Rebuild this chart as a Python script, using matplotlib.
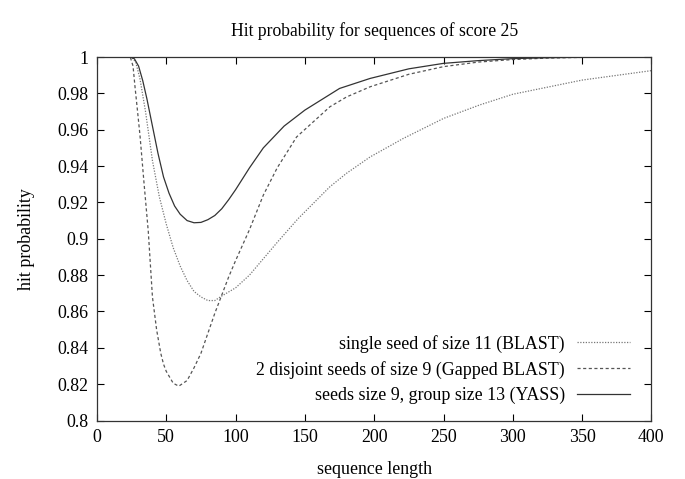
import matplotlib
matplotlib.use("Agg")
import matplotlib.pyplot as plt

# values
blast_x = [0, 20, 25, 28, 31, 35, 40, 45, 50, 55, 60, 65, 70, 75, 80, 85, 90, 100,
           110, 120, 130, 145, 168, 180, 197, 221, 250, 276, 300, 350, 400]
blast_y = [1.0, 1.0, 1.0, 0.997, 0.988, 0.970, 0.943, 0.923, 0.908, 0.895, 0.885,
           0.877, 0.871, 0.868, 0.866, 0.866, 0.8685, 0.873, 0.880, 0.889, 0.898,
           0.911, 0.9286, 0.936, 0.945, 0.9552, 0.9662, 0.9736, 0.9795, 0.9873, 0.9925]

gapped_x = [0, 20, 24, 26, 27.5, 29, 31, 34, 37, 40, 43, 46, 48, 50, 55, 59, 65, 70,
            75, 80, 85, 90, 95, 100, 110, 120, 130, 144, 168, 180, 197, 225, 250,
            275, 300, 325, 350, 400]
gapped_y = [1.0, 1.0, 1.0, 0.995, 0.983, 0.972, 0.957, 0.930, 0.904, 0.868, 0.850,
            0.837, 0.831, 0.827, 0.8205, 0.8189, 0.822, 0.829, 0.837, 0.848, 0.859,
            0.869, 0.879, 0.888, 0.905, 0.924, 0.939, 0.956, 0.9726, 0.978, 0.9836,
            0.9905, 0.9947, 0.9972, 0.9986, 0.9994, 0.9998, 1.0]

yass_x = [0, 24, 27, 30, 33, 36, 40, 44, 48, 52, 56, 60, 65, 70, 75, 80, 85, 90, 95,
          100, 110, 120, 135, 150, 175, 197, 225, 250, 275, 300, 325, 350, 400]
yass_y = [1.0, 1.0, 0.999, 0.995, 0.987, 0.977, 0.962, 0.947, 0.934, 0.925, 0.918,
          0.9135, 0.910, 0.9088, 0.909, 0.9105, 0.9128, 0.9165, 0.9215, 0.927, 0.939,
          0.950, 0.962, 0.9708, 0.9827, 0.9882, 0.9935, 0.9965, 0.998, 0.9991,
          0.9996, 0.9999, 1.0]

labels = ["single seed of size 11 (BLAST)",
          "2 disjoint seeds of size 9 (Gapped BLAST)",
          "seeds size 9, group size 13 (YASS)"]

plt.rcParams['font.family'] = ['Liberation Serif', 'DejaVu Serif']
plt.rcParams['font.size'] = 12.9

fig = plt.figure(figsize=(6.85, 4.79), dpi=100)
ax = fig.add_axes([0.1416, 0.1221, 0.8094, 0.7589])

ax.plot(blast_x, blast_y, color='#777777', lw=0.9, ls=(0, (1, 1.2)), label=labels[0])
ax.plot(gapped_x, gapped_y, color='#555555', lw=0.9, ls=(0, (2.5, 2)), label=labels[1])
ax.plot(yass_x, yass_y, color='#333333', lw=0.9, ls='-', label=labels[2])

ax.set_xlim(0, 400)
ax.set_ylim(0.8, 1.0)
ax.set_xticks(range(0, 401, 50))
ax.set_yticks([0.8, 0.82, 0.84, 0.86, 0.88, 0.9, 0.92, 0.94, 0.96, 0.98, 1.0])
ax.set_yticklabels(['0.8', '0.82', '0.84', '0.86', '0.88', '0.9', '0.92', '0.94',
                    '0.96', '0.98', '1'])
ax.tick_params(direction='in', length=5, width=0.8, top=True, right=True, pad=6)
for s in ax.spines.values():
    s.set_linewidth(0.9)
    s.set_color('#333333')

ax.set_title("Hit probability for sequences of score 25", pad=15, fontsize=12.7)
ax.set_xlabel("sequence length", labelpad=11)
ax.set_ylabel("hit probability", labelpad=16)

ax.legend(loc='lower right', bbox_to_anchor=(0.962, 0.045), markerfirst=False,
          frameon=False, handlelength=3.0, handletextpad=0.65, labelspacing=0.45,
          borderpad=0, borderaxespad=0)

fig.savefig("out.png", dpi=100)
